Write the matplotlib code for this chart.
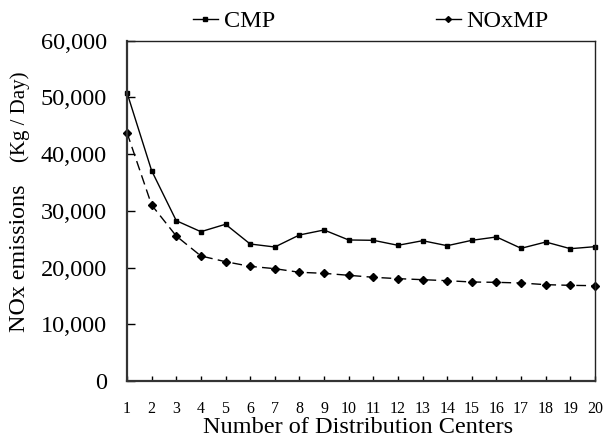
"""
NOx emissions vs. number of distribution centers (CMP vs NOxMP).
"""
import matplotlib.pyplot as plt
from matplotlib.lines import Line2D
from matplotlib.ticker import FuncFormatter

plt.rcParams["font.family"] = ["Liberation Serif", "DejaVu Serif"]

N_CENTERS = list(range(1, 21))

CMP = [50850, 37090, 28270, 26330, 27640, 24160, 23630, 25750, 26630, 24870,
       24810, 23930, 24740, 23860, 24810, 25400, 23400, 24510, 23330, 23690]

NOXMP = [43790, 31040, 25570, 22050, 21040, 20220, 19810, 19170, 18990, 18640,
         18290, 18050, 17870, 17690, 17460, 17400, 17280, 16990, 16870, 16810]

Y_TICKS = [0, 10000, 20000, 30000, 40000, 50000, 60000]


def plot_emissions() -> None:
    fig = plt.figure(figsize=(6.05, 4.37), dpi=100)
    ax = fig.add_axes([0.2099, 0.1281, 0.7736, 0.7787])

    ax.plot(N_CENTERS, CMP, color="black", linewidth=1.0,
            marker="s", markersize=3, clip_on=False)
    ax.plot(N_CENTERS, NOXMP, color="black", linewidth=1.0,
            linestyle=(0, (7, 3.8)), marker="D", markersize=3.6,
            clip_on=False)

    ax.set_xlim(1, 20)
    ax.set_ylim(0, 60000)
    ax.set_xticks(N_CENTERS)
    ax.set_yticks(Y_TICKS)
    ax.yaxis.set_major_formatter(FuncFormatter(lambda v, _: f"{int(v):,}"))

    ax.tick_params(axis="x", direction="in", length=3.6, width=1.0,
                   pad=14.4, labelsize=11.5)
    ax.tick_params(axis="y", direction="in", length=5.8, width=1.0,
                   pad=14.4, labelsize=17.5)
    for side in ["left", "bottom"]:
        ax.spines[side].set_linewidth(1.6)
        ax.spines[side].set_color("#333333")
    for side in ["right", "top"]:
        ax.spines[side].set_linewidth(1.0)
        ax.spines[side].set_color("#222222")

    # x label, baseline placed like the reference
    ax.set_xlabel("Number of Distribution Centers", fontsize=17.5)
    ax.xaxis.label.set_va("baseline")
    ax.xaxis.set_label_coords(0.494, -0.152)

    # y label is two parts, the units slightly smaller
    fig.text(0.032, 0.41, "NOx emissions", rotation=90, fontsize=17.3,
             ha="center", va="center")
    fig.text(0.033, 0.733, "(Kg / Day)", rotation=90, fontsize=15,
             ha="center", va="center")

    # solid handles, as in the reference legend
    handles = [
        Line2D([], [], color="black", linewidth=1.0, marker="s", markersize=2.5),
        Line2D([], [], color="black", linewidth=1.0, marker="D", markersize=3),
    ]
    fig.legend(handles, ["CMP", "NOxMP"], loc="center",
               bbox_to_anchor=(0.613, 0.951), ncol=2, frameon=False,
               fontsize=17.5, handlelength=1.03, handletextpad=0.25,
               columnspacing=6.6, borderpad=0.1)

    fig.savefig("out.png", dpi=100)
    plt.close(fig)


if __name__ == "__main__":
    plot_emissions()
